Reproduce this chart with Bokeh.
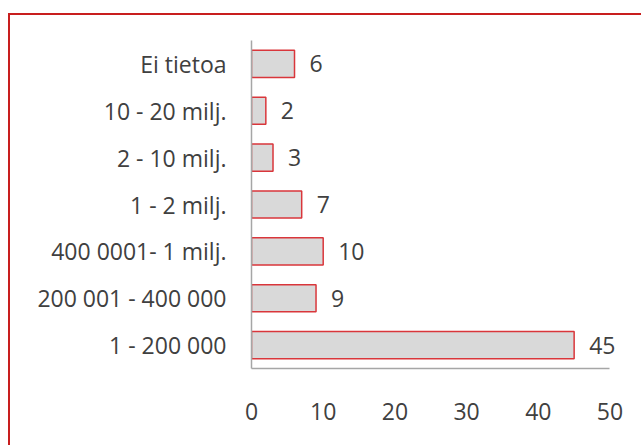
from bokeh.plotting import figure
from bokeh.models import FactorRange, Range1d, FixedTicker, ColumnDataSource
from bokeh.core.properties import value
from bokeh.embed import file_html
from bokeh.resources import INLINE

categories = ["Ei tietoa", "10 - 20 milj.", "2 - 10 milj.", "1 - 2 milj.",
              "400 0001- 1 milj.", "200 001 - 400 000", "1 - 200 000"]
counts = [6, 2, 3, 7, 10, 9, 45]
x_ticks = [0, 10, 20, 30, 40, 50]

FONT = "Open Sans"
TEXT_COLOR = "#404040"
AXIS_COLOR = "#a6a6a6"

src = ColumnDataSource(dict(cat=categories, val=counts, lab=[str(v) for v in counts]))

p = figure(width=633, height=432, output_backend="svg", toolbar_location=None,
           y_range=FactorRange(factors=list(reversed(categories))),
           x_range=Range1d(0, 53),
           min_border_left=241, min_border_right=12, min_border_top=25, min_border_bottom=79)
p.styles = {"border-top": "2px solid #c81e1e", "border-left": "2px solid #c81e1e",
            "margin-top": "13px", "margin-left": "8px"}

p.hbar(y="cat", right="val", left=0, height=0.58, source=src,
       fill_color="#d9d9d9", line_color="#d9363b", line_width=1.5)
p.text(x="val", y="cat", text="lab", source=src, x_offset=15,
       text_align="left", text_baseline="middle", text_font=value(FONT),
       text_font_size="23px", text_color=TEXT_COLOR)

p.xgrid.visible = False
p.ygrid.visible = False
p.outline_line_color = None

p.xaxis.ticker = FixedTicker(ticks=x_ticks)
p.xaxis.bounds = (0, 50)
for ax in (p.xaxis[0], p.yaxis[0]):
    ax.axis_line_color = AXIS_COLOR
    ax.axis_line_width = 1.5
    ax.major_tick_line_color = None
    ax.minor_tick_line_color = None
    ax.major_tick_out = 0
    ax.major_tick_in = 0
    ax.major_label_text_font = FONT
    ax.major_label_text_font_size = "23px"
    ax.major_label_text_color = TEXT_COLOR
p.xaxis.major_label_standoff = 34
p.yaxis.major_label_standoff = 25

open("out.html", "w").write(file_html(p, INLINE))
